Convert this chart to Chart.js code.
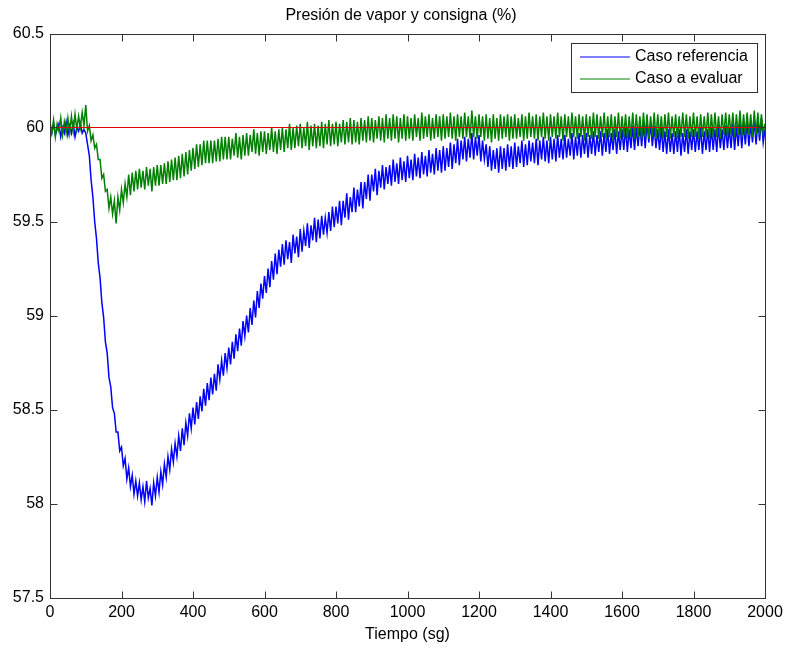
<!DOCTYPE html>
<html>
<head>
<meta charset="utf-8">
<script src="https://cdn.jsdelivr.net/npm/chart.js@4.4.1/dist/chart.umd.min.js"></script>
<style>
  body { margin: 0; background: #fff; }
  #wrap { width: 785px; height: 651px; }
</style>
</head>
<body>
<div id="wrap"><canvas id="grafico" width="785" height="651"></canvas></div>
<script>
// DATOS (cada 5 sg)
const tiempo = [
  0, 5, 10, 15, 20, 25, 30, 35, 40, 45,
  50, 55, 60, 65, 70, 75, 80, 85, 90, 95,
  100, 105, 110, 115, 120, 125, 130, 135, 140, 145,
  150, 155, 160, 165, 170, 175, 180, 185, 190, 195,
  200, 205, 210, 215, 220, 225, 230, 235, 240, 245,
  250, 255, 260, 265, 270, 275, 280, 285, 290, 295,
  300, 305, 310, 315, 320, 325, 330, 335, 340, 345,
  350, 355, 360, 365, 370, 375, 380, 385, 390, 395,
  400, 405, 410, 415, 420, 425, 430, 435, 440, 445,
  450, 455, 460, 465, 470, 475, 480, 485, 490, 495,
  500, 505, 510, 515, 520, 525, 530, 535, 540, 545,
  550, 555, 560, 565, 570, 575, 580, 585, 590, 595,
  600, 605, 610, 615, 620, 625, 630, 635, 640, 645,
  650, 655, 660, 665, 670, 675, 680, 685, 690, 695,
  700, 705, 710, 715, 720, 725, 730, 735, 740, 745,
  750, 755, 760, 765, 770, 775, 780, 785, 790, 795,
  800, 805, 810, 815, 820, 825, 830, 835, 840, 845,
  850, 855, 860, 865, 870, 875, 880, 885, 890, 895,
  900, 905, 910, 915, 920, 925, 930, 935, 940, 945,
  950, 955, 960, 965, 970, 975, 980, 985, 990, 995,
  1000, 1005, 1010, 1015, 1020, 1025, 1030, 1035, 1040, 1045,
  1050, 1055, 1060, 1065, 1070, 1075, 1080, 1085, 1090, 1095,
  1100, 1105, 1110, 1115, 1120, 1125, 1130, 1135, 1140, 1145,
  1150, 1155, 1160, 1165, 1170, 1175, 1180, 1185, 1190, 1195,
  1200, 1205, 1210, 1215, 1220, 1225, 1230, 1235, 1240, 1245,
  1250, 1255, 1260, 1265, 1270, 1275, 1280, 1285, 1290, 1295,
  1300, 1305, 1310, 1315, 1320, 1325, 1330, 1335, 1340, 1345,
  1350, 1355, 1360, 1365, 1370, 1375, 1380, 1385, 1390, 1395,
  1400, 1405, 1410, 1415, 1420, 1425, 1430, 1435, 1440, 1445,
  1450, 1455, 1460, 1465, 1470, 1475, 1480, 1485, 1490, 1495,
  1500, 1505, 1510, 1515, 1520, 1525, 1530, 1535, 1540, 1545,
  1550, 1555, 1560, 1565, 1570, 1575, 1580, 1585, 1590, 1595,
  1600, 1605, 1610, 1615, 1620, 1625, 1630, 1635, 1640, 1645,
  1650, 1655, 1660, 1665, 1670, 1675, 1680, 1685, 1690, 1695,
  1700, 1705, 1710, 1715, 1720, 1725, 1730, 1735, 1740, 1745,
  1750, 1755, 1760, 1765, 1770, 1775, 1780, 1785, 1790, 1795,
  1800, 1805, 1810, 1815, 1820, 1825, 1830, 1835, 1840, 1845,
  1850, 1855, 1860, 1865, 1870, 1875, 1880, 1885, 1890, 1895,
  1900, 1905, 1910, 1915, 1920, 1925, 1930, 1935, 1940, 1945,
  1950, 1955, 1960, 1965, 1970, 1975, 1980, 1985, 1990, 1995,
  2000
];

const casoReferencia = [
  60.01, 59.97, 60.02, 59.96, 59.99, 60.02, 59.95, 60.00, 59.97, 60.03,
  59.96, 60.01, 59.97, 60.02, 59.95, 60.00, 59.98, 60.02, 59.97, 59.99,
  59.97, 59.91, 59.85, 59.72, 59.63, 59.50, 59.41, 59.28, 59.20, 59.07,
  58.99, 58.86, 58.80, 58.67, 58.62, 58.51, 58.48, 58.38, 58.38, 58.28,
  58.30, 58.20, 58.24, 58.13, 58.19, 58.09, 58.15, 58.05, 58.12, 58.04,
  58.11, 58.02, 58.09, 58.01, 58.12, 58.03, 58.08, 57.99, 58.11, 58.04,
  58.14, 58.06, 58.17, 58.10, 58.21, 58.14, 58.25, 58.18, 58.29, 58.22,
  58.32, 58.25, 58.36, 58.28, 58.40, 58.31, 58.43, 58.36, 58.48, 58.40,
  58.51, 58.42, 58.54, 58.45, 58.57, 58.49, 58.61, 58.52, 58.64, 58.55,
  58.67, 58.58, 58.69, 58.60, 58.74, 58.66, 58.76, 58.68, 58.80, 58.72,
  58.83, 58.74, 58.86, 58.77, 58.90, 58.81, 58.93, 58.84, 58.97, 58.89,
  59.00, 58.91, 59.04, 58.95, 59.08, 58.99, 59.13, 59.04, 59.17, 59.09,
  59.21, 59.12, 59.25, 59.15, 59.29, 59.19, 59.33, 59.22, 59.35, 59.26,
  59.38, 59.27, 59.40, 59.30, 59.39, 59.28, 59.43, 59.33, 59.42, 59.31,
  59.46, 59.34, 59.45, 59.37, 59.49, 59.36, 59.48, 59.40, 59.52, 59.39,
  59.51, 59.41, 59.53, 59.43, 59.52, 59.44, 59.55, 59.45, 59.58, 59.47,
  59.58, 59.49, 59.61, 59.48, 59.61, 59.52, 59.65, 59.51, 59.63, 59.55,
  59.68, 59.55, 59.67, 59.58, 59.71, 59.57, 59.71, 59.62, 59.75, 59.61,
  59.75, 59.66, 59.78, 59.64, 59.77, 59.68, 59.80, 59.67, 59.79, 59.70,
  59.80, 59.69, 59.83, 59.71, 59.81, 59.70, 59.84, 59.72, 59.82, 59.71,
  59.85, 59.73, 59.83, 59.72, 59.86, 59.74, 59.84, 59.73, 59.87, 59.75,
  59.85, 59.74, 59.88, 59.76, 59.86, 59.75, 59.89, 59.77, 59.88, 59.76,
  59.90, 59.77, 59.89, 59.79, 59.92, 59.78, 59.91, 59.81, 59.94, 59.80,
  59.93, 59.83, 59.95, 59.82, 59.94, 59.84, 59.97, 59.83, 59.95, 59.85,
  59.96, 59.82, 59.93, 59.83, 59.91, 59.79, 59.90, 59.77, 59.88, 59.78,
  59.89, 59.76, 59.90, 59.78, 59.89, 59.77, 59.91, 59.79, 59.90, 59.78,
  59.92, 59.79, 59.90, 59.81, 59.93, 59.79, 59.91, 59.80, 59.93, 59.82,
  59.92, 59.81, 59.94, 59.80, 59.93, 59.83, 59.95, 59.82, 59.93, 59.81,
  59.95, 59.83, 59.94, 59.82, 59.96, 59.84, 59.94, 59.83, 59.96, 59.84,
  59.94, 59.85, 59.97, 59.83, 59.95, 59.85, 59.97, 59.84, 59.96, 59.86,
  59.97, 59.84, 59.96, 59.86, 59.98, 59.85, 59.96, 59.87, 59.98, 59.85,
  59.97, 59.87, 59.99, 59.86, 59.97, 59.88, 59.99, 59.86, 59.98, 59.88,
  59.99, 59.88, 60.00, 59.87, 59.99, 59.89, 60.01, 59.88, 60.00, 59.90,
  60.01, 59.90, 60.02, 59.89, 60.03, 59.92, 60.02, 59.90, 60.01, 59.89,
  59.99, 59.88, 60.00, 59.87, 59.98, 59.86, 59.99, 59.87, 59.97, 59.86,
  59.98, 59.87, 59.99, 59.85, 59.97, 59.87, 59.99, 59.86, 59.98, 59.88,
  59.99, 59.87, 59.98, 59.88, 60.00, 59.86, 59.98, 59.88, 59.99, 59.87,
  60.00, 59.88, 59.99, 59.87, 60.01, 59.89, 59.99, 59.88, 60.01, 59.89,
  60.00, 59.89, 60.02, 59.88, 60.01, 59.90, 60.03, 59.89, 60.02, 59.91,
  60.03, 59.90, 60.02, 59.92, 60.04, 59.91, 60.03, 59.93, 60.05, 59.92,
  59.99
];

const casoEvaluar = [
  60.03, 59.97, 60.04, 59.95, 60.02, 59.98, 60.05, 59.96, 60.03, 59.97,
  60.05, 59.97, 60.06, 59.98, 60.07, 59.99, 60.06, 60.00, 60.08, 60.01,
  60.12, 59.98, 60.01, 59.93, 59.96, 59.89, 59.91, 59.83, 59.83, 59.73,
  59.75, 59.66, 59.67, 59.57, 59.63, 59.54, 59.61, 59.49, 59.63, 59.56,
  59.67, 59.60, 59.70, 59.63, 59.75, 59.64, 59.76, 59.66, 59.77, 59.67,
  59.78, 59.68, 59.77, 59.67, 59.79, 59.69, 59.78, 59.66, 59.79, 59.69,
  59.80, 59.69, 59.80, 59.70, 59.81, 59.70, 59.82, 59.71, 59.83, 59.72,
  59.84, 59.72, 59.85, 59.73, 59.86, 59.74, 59.87, 59.75, 59.88, 59.77,
  59.89, 59.78, 59.91, 59.79, 59.91, 59.80, 59.93, 59.81, 59.93, 59.81,
  59.93, 59.81, 59.93, 59.82, 59.94, 59.82, 59.95, 59.83, 59.95, 59.83,
  59.95, 59.83, 59.94, 59.85, 59.97, 59.84, 59.95, 59.83, 59.96, 59.85,
  59.97, 59.85, 59.96, 59.87, 59.99, 59.86, 59.97, 59.85, 59.98, 59.87,
  59.98, 59.86, 59.97, 59.88, 60.00, 59.87, 59.98, 59.86, 59.99, 59.88,
  60.00, 59.87, 59.99, 59.89, 60.02, 59.88, 60.00, 59.89, 60.01, 59.90,
  60.02, 59.89, 60.00, 59.90, 60.03, 59.88, 60.01, 59.90, 60.02, 59.89,
  60.01, 59.90, 60.03, 59.89, 60.02, 59.91, 60.04, 59.90, 60.02, 59.91,
  60.03, 59.90, 60.02, 59.92, 60.04, 59.91, 60.03, 59.92, 60.05, 59.91,
  60.04, 59.92, 60.03, 59.91, 60.05, 59.93, 60.04, 59.92, 60.06, 59.93,
  60.05, 59.92, 60.04, 59.94, 60.06, 59.93, 60.05, 59.92, 60.07, 59.94,
  60.05, 59.93, 60.07, 59.94, 60.06, 59.92, 60.05, 59.94, 60.07, 59.93,
  60.06, 59.94, 60.05, 59.93, 60.07, 59.95, 60.05, 59.93, 60.08, 59.94,
  60.06, 59.95, 60.07, 59.93, 60.05, 59.94, 60.07, 59.95, 60.06, 59.93,
  60.07, 59.94, 60.06, 59.95, 60.08, 59.94, 60.06, 59.93, 60.07, 59.95,
  60.06, 59.94, 60.08, 59.95, 60.06, 59.94, 60.09, 59.95, 60.06, 59.94,
  60.07, 59.95, 60.06, 59.93, 60.07, 59.94, 60.05, 59.92, 60.07, 59.94,
  60.05, 59.93, 60.07, 59.94, 60.06, 59.95, 60.07, 59.93, 60.06, 59.94,
  60.07, 59.94, 60.05, 59.95, 60.07, 59.93, 60.06, 59.94, 60.08, 59.95,
  60.06, 59.94, 60.07, 59.93, 60.06, 59.95, 60.08, 59.94, 60.06, 59.93,
  60.07, 59.95, 60.06, 59.94, 60.08, 59.95, 60.06, 59.93, 60.07, 59.95,
  60.06, 59.94, 60.08, 59.95, 60.06, 59.94, 60.07, 59.95, 60.06, 59.93,
  60.07, 59.95, 60.06, 59.94, 60.08, 59.95, 60.07, 59.94, 60.06, 59.95,
  60.08, 59.94, 60.06, 59.95, 60.07, 59.93, 60.06, 59.95, 60.08, 59.94,
  60.06, 59.95, 60.07, 59.94, 60.06, 59.95, 60.08, 59.94, 60.07, 59.95,
  60.06, 59.94, 60.08, 59.95, 60.07, 59.94, 60.06, 59.95, 60.08, 59.94,
  60.07, 59.95, 60.06, 59.94, 60.07, 59.95, 60.08, 59.94, 60.06, 59.95,
  60.07, 59.94, 60.06, 59.95, 60.08, 59.95, 60.07, 59.94, 60.06, 59.95,
  60.08, 59.95, 60.06, 59.94, 60.07, 59.95, 60.06, 59.95, 60.08, 59.94,
  60.07, 59.95, 60.08, 59.95, 60.06, 59.94, 60.07, 59.96, 60.08, 59.95,
  60.07, 59.96, 60.08, 59.95, 60.07, 59.96, 60.09, 59.95, 60.07, 59.96,
  60.08, 59.96, 60.07, 59.95, 60.09, 59.96, 60.08, 59.96, 60.07, 59.97,
  60.02
];

// consigna (linea horizontal)
const consignaTiempo = [0, 2000];
const consignaValor = [60, 60];

const titulo = 'Presión de vapor y consigna (%)';
const tituloEjeX = 'Tiempo (sg)';
const FUENTE = '"Liberation Sans", Helvetica, Arial, sans-serif';

function puntos(xs, ys) {
  return xs.map((x, i) => ({ x: x, y: ys[i] }));
}

// marco, ticks hacia dentro, titulo y leyenda estilo matlab
const estiloMatlab = {
  id: 'estiloMatlab',
  afterDraw(chart) {
    const ctx = chart.ctx;
    const a = chart.chartArea;
    const sx = chart.scales.x;
    const sy = chart.scales.y;
    const largo = 7;
    const L = Math.round(a.left) + 0.5, R = Math.round(a.right) + 0.5;
    const T = Math.round(a.top) + 0.5, B = Math.round(a.bottom) + 0.5;

    ctx.save();
    ctx.strokeStyle = '#333';
    ctx.lineWidth = 1;
    ctx.beginPath();
    sx.ticks.forEach(t => {
      const px = Math.round(sx.getPixelForValue(t.value)) + 0.5;
      ctx.moveTo(px, B); ctx.lineTo(px, B - largo);
      ctx.moveTo(px, T); ctx.lineTo(px, T + largo);
    });
    sy.ticks.forEach(t => {
      const py = Math.round(sy.getPixelForValue(t.value)) + 0.5;
      ctx.moveTo(L, py); ctx.lineTo(L + largo, py);
      ctx.moveTo(R, py); ctx.lineTo(R - largo, py);
    });
    ctx.stroke();
    ctx.strokeRect(L, T, R - L, B - T);

    // titulo
    ctx.fillStyle = '#000';
    ctx.font = '16px ' + FUENTE;
    ctx.textAlign = 'center';
    ctx.textBaseline = 'middle';
    ctx.fillText(titulo, 401, 16);

    // leyenda
    const series = chart.data.datasets
      .filter(d => d.enLeyenda)
      .sort((p, q) => p.enLeyenda - q.enLeyenda);
    const bx = Math.round(a.right) - 194, by = Math.round(a.top) + 9, bw = 186, bh = 49;
    ctx.fillStyle = '#fff';
    ctx.fillRect(bx, by, bw, bh);
    ctx.strokeStyle = '#333';
    ctx.strokeRect(bx + 0.5, by + 0.5, bw, bh);
    ctx.textAlign = 'left';
    series.forEach((d, i) => {
      const yy = by + 14 + i * 21.5;
      ctx.strokeStyle = d.borderColor;
      ctx.beginPath();
      ctx.moveTo(bx + 9, Math.round(yy));
      ctx.lineTo(bx + 59, Math.round(yy));
      ctx.stroke();
      ctx.fillStyle = '#000';
      ctx.fillText(d.label, bx + 64, yy);
    });
    ctx.restore();
  }
};

const ctx = document.getElementById('grafico').getContext('2d');
const grafico = new Chart(ctx, {
  type: 'line',
  data: {
    datasets: [
      {
        label: 'consigna',
        data: puntos(consignaTiempo, consignaValor),
        borderColor: '#e00000',
        borderWidth: 1,
        pointRadius: 0,
        order: 0
      },
      {
        label: 'Caso a evaluar',
        data: puntos(tiempo, casoEvaluar),
        borderColor: '#008000',
        borderWidth: 1.5,
        pointRadius: 0,
        enLeyenda: 2,
        order: 1
      },
      {
        label: 'Caso referencia',
        data: puntos(tiempo, casoReferencia),
        borderColor: '#0000ff',
        borderWidth: 1.5,
        pointRadius: 0,
        enLeyenda: 1,
        order: 2
      }
    ]
  },
  options: {
    responsive: false,
    animation: false,
    layout: { padding: { top: 33.5, right: 20, left: 0, bottom: 0 } },
    plugins: {
      legend: { display: false },
      title: { display: false },
      tooltip: { enabled: false }
    },
    scales: {
      x: {
        type: 'linear',
        min: 0,
        max: 2000,
        grid: { display: false, drawTicks: false },
        border: { display: false },
        afterFit: s => { s.height = 53.5; s.paddingLeft = 0; s.paddingRight = 0; },
        ticks: {
          stepSize: 200,
          padding: 5,
          color: '#000',
          maxRotation: 0,
          font: { family: FUENTE, size: 16 },
          callback: v => String(v)
        },
        title: {
          display: true,
          text: tituloEjeX,
          color: '#000',
          padding: { top: 0, bottom: 7 },
          font: { family: FUENTE, size: 16 }
        }
      },
      y: {
        min: 57.5,
        max: 60.5,
        grid: { display: false, drawTicks: false },
        border: { display: false },
        afterFit: s => { s.width = 50; s.paddingTop = 0; s.paddingBottom = 0; },
        ticks: {
          stepSize: 0.5,
          padding: 6,
          color: '#000',
          font: { family: FUENTE, size: 16 },
          callback: v => String(Math.round(v * 10) / 10)
        }
      }
    }
  },
  plugins: [estiloMatlab]
});
</script>
</body>
</html>
